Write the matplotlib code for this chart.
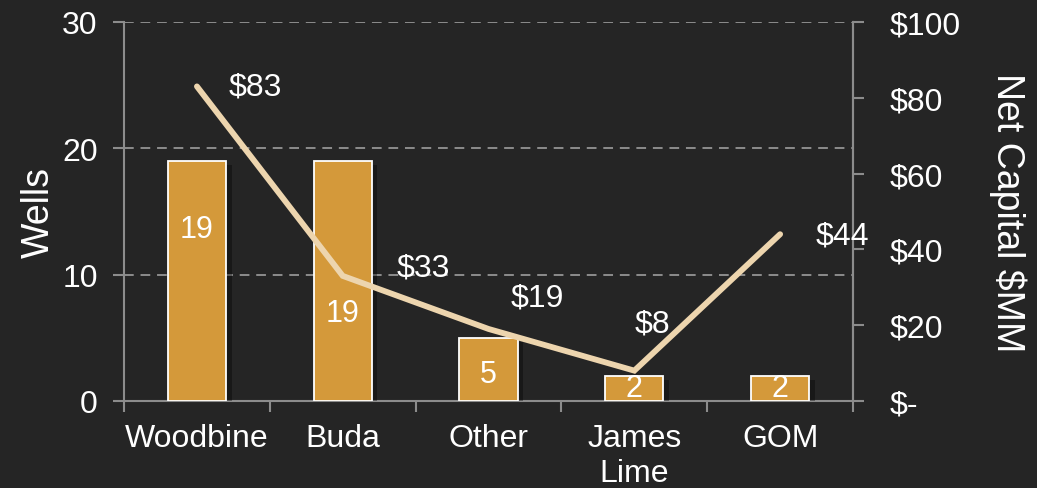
import matplotlib
matplotlib.use("Agg")
import matplotlib.pyplot as plt
import matplotlib.patheffects as pe
import numpy as np

categories = ["Woodbine", "Buda", "Other", "James\nLime", "GOM"]
wells = [19, 19, 5, 2, 2]
net_capital = [83, 33, 19, 8, 44]
capital_labels = ["$83", "$33", "$19", "$8", "$44"]
right_ticks = [0, 20, 40, 60, 80, 100]
right_tick_labels = ["$-", "$20", "$40", "$60", "$80", "$100"]

# label placement (layout only)
bar_label_y = [13.6, 7.0, 2.1, 1.0, 1.0]
cap_label_offsets = [(42, 0), (58, 6), (35, 23), (13, 34), (45, -1)]

BG = "#252525"
BAR = "#D4993A"
LINE = "#EDD5AE"
GRID = "#8C8C8C"
FONT = ["Liberation Sans", "DejaVu Sans"]

plt.rcParams["font.family"] = FONT

fig = plt.figure(figsize=(10.37, 4.89), dpi=100, facecolor=BG)
ax = fig.add_axes([0.1196, 0.178, 0.8226 - 0.1196, 0.953 - 0.178])
ax.set_facecolor(BG)
x = np.arange(len(categories))

bars = ax.bar(x, wells, width=0.4, color=BAR, edgecolor="white", linewidth=1.3, zorder=3)
for b in bars:
    b.set_path_effects([pe.SimplePatchShadow(offset=(4, -3), shadow_rgbFace="black", alpha=0.35),
                        pe.Normal()])

for xi, v, yl in zip(x, wells, bar_label_y):
    ax.text(xi, yl, str(v), ha="center", va="center", color="white", fontsize=22, zorder=5)

ax.set_xlim(-0.5, len(categories) - 0.5)
ax.set_ylim(0, 30)
ax.set_yticks([0, 10, 20, 30])
ax.set_xticks(x)
ax.set_xticklabels(categories, fontsize=23, linespacing=1.2)
ax.set_xticks(np.arange(-0.5, len(categories), 1.0), minor=True)
ax.tick_params(axis="x", which="major", length=0, pad=16, colors="white")
ax.tick_params(axis="x", which="minor", length=8, width=1.5, color=GRID, direction="out")
ax.tick_params(axis="y", length=8, width=1.5, color=GRID, labelcolor="white", labelsize=23, pad=11)
ax.grid(axis="y", color=GRID, linestyle=(0, (5, 3.5)), linewidth=1.4, zorder=0)
ax.spines["top"].set_visible(False)
for s in ["left", "right", "bottom"]:
    ax.spines[s].set_color(GRID)
    ax.spines[s].set_linewidth(1.5)
ax.set_ylabel("Wells", color="white", fontsize=27, labelpad=4)

ax2 = ax.twinx()
ax2.set_ylim(0, 100)
ax2.plot(x, net_capital, color=LINE, linewidth=4.2, solid_capstyle="round",
         solid_joinstyle="miter", zorder=4)
for xi, v, lab, off in zip(x, net_capital, capital_labels, cap_label_offsets):
    ax2.annotate(lab, (xi, v), xytext=off, textcoords="offset points", ha="center", va="center",
                 color="white", fontsize=23, zorder=6)
ax2.set_yticks(right_ticks)
ax2.set_yticklabels(right_tick_labels)
ax2.tick_params(axis="y", length=8, width=1.5, color=GRID, labelcolor="white", labelsize=23, pad=18)
for s in ["top", "left", "bottom"]:
    ax2.spines[s].set_visible(False)
ax2.spines["right"].set_color(GRID)
ax2.spines["right"].set_linewidth(1.5)
ax2.set_ylabel("Net Capital $MM", color="white", fontsize=27, rotation=270, labelpad=48)

fig.savefig("out.png", dpi=100, facecolor=BG)
